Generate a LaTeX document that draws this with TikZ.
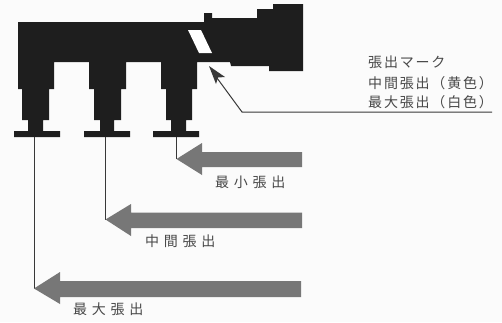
\documentclass[tikz,border=0pt]{standalone}
\usepackage{fontspec}
\newfontfamily\jpwide[LetterSpace=34]{Noto Sans CJK JP}
\newfontfamily\jpnarrow[LetterSpace=13]{Noto Sans CJK JP}
\usetikzlibrary{calc}
\definecolor{paper}{HTML}{FBFBFB}
\definecolor{bodyc}{HTML}{1E1E1E}
\definecolor{arrowc}{HTML}{777777}
\definecolor{linec}{HTML}{383838}
\definecolor{textc}{HTML}{484848}
\tikzset{
  solidpart/.style={fill=bodyc,draw=none},
  pusharrow/.style={fill=arrowc,draw=none},
  thin line/.style={draw=linec,line width=1pt},
  wide text/.style={inner sep=0pt,text=textc,font=\jpwide\fontsize{14}{16}\selectfont,anchor=west},
  narrow text/.style={inner sep=0pt,text=textc,font=\jpnarrow\fontsize{14}{16}\selectfont,anchor=west},
}
\begin{document}
\begin{tikzpicture}[x=1pt,y=-1pt]
\useasboundingbox[fill=paper] (0,0) rectangle (502,322);
% body
\path[solidpart] (18,22) -- (204,22) -- (204,13) -- (212,13) -- (212,18) -- (257,18) -- (257,9) -- (273,9) -- (273,4) -- (303,4) -- (303,71) -- (269,71) -- (269,66) -- (231,66) -- (230,62) -- (197,62)
  -- (197,89) -- (192,89) -- (192,120) -- (186,120) -- (186,131) -- (199,131) -- (199,137) -- (153,137) -- (153,131) -- (171,131) -- (171,120) -- (166,120) -- (166,89) -- (161,89) -- (161,62)
  -- (126,62) -- (126,89) -- (121,89) -- (121,120) -- (114,120) -- (114,131) -- (130,131) -- (130,137) -- (84,137) -- (84,131) -- (100,131) -- (100,120) -- (94,120) -- (94,89) -- (89,89) -- (89,62)
  -- (54,62) -- (54,89) -- (49,89) -- (49,120) -- (43,120) -- (43,131) -- (60,131) -- (60,137) -- (14,137) -- (14,131) -- (28,131) -- (28,120) -- (22,120) -- (22,89) -- (18,89) -- cycle;
% mark
\fill[white] (188,30) -- (201,30) -- (212,53) -- (199,53) -- cycle;
% named end points
\coordinate (footA) at (34,137);
\coordinate (footB) at (105.5,137);
\coordinate (footC) at (176.5,137);
\coordinate (tipA) at (34,288.5);
\coordinate (tipB) at (105.5,219.5);
\coordinate (tipC) at (176.5,159);
\coordinate (markTip) at (209,66);
\coordinate (bend) at (242,112);
\coordinate (lineEnd) at (492,112);
% stroke lines
\draw[thin line] (footA) -- (tipA);
\draw[thin line] (footB) -- (tipB);
\draw[thin line] (footC) -- (tipC);
\draw[thin line] (lineEnd) -- (bend) -- (217,78);
\fill[linec] (markTip) -- (225,77) -- (218,77.5) -- (216,84) -- cycle;
% push arrows
\path[pusharrow] (tipC) -- (202,143) -- (202,152) -- (302,152) -- (302,167) -- (202,167) -- (202,175) -- cycle;
\path[pusharrow] (tipB) -- (131,204) -- (131,212.5) -- (302,212.5) -- (302,228) -- (131,228) -- (131,236) -- cycle;
\path[pusharrow] (tipA) -- (60,272) -- (60,281) -- (301,281) -- (301,297) -- (60,297) -- (60,304) -- cycle;
% labels
\node[wide text] (minL) at (215,182) {最小張出};
\node[wide text] (midL) at (145,241) {中間張出};
\node[wide text] (maxL) at (73,309) {最大張出};
\node[narrow text] (markL) at (368,62) {張出マーク};
\node[narrow text] (yellowL) at (368,83) {中間張出（黄色）};
\node[narrow text] (whiteL) at (368,102) {最大張出（白色）};
\end{tikzpicture}
\end{document}
